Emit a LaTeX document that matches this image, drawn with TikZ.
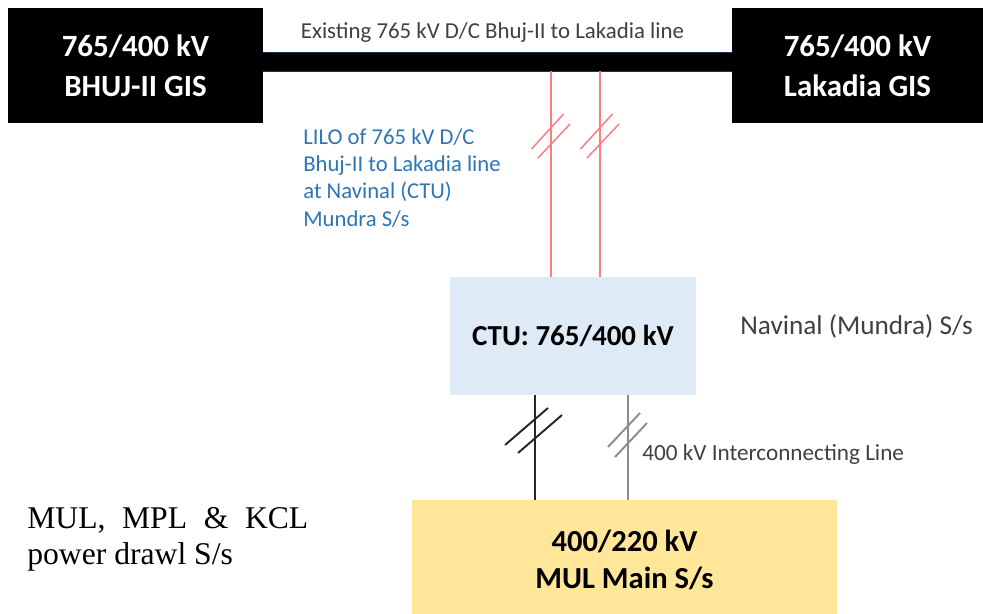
\documentclass[tikz,border=0pt]{standalone}
\usepackage{fontspec}
\setmainfont{Carlito}
\newfontfamily\serifnote{Liberation Serif}

\definecolor{ctublue}{HTML}{DEEAF6}
\definecolor{mulgold}{HTML}{FFE699}
\definecolor{lilored}{HTML}{FF7C80}
\definecolor{liloblue}{HTML}{2E75B6}
\definecolor{notegray}{HTML}{404040}
\definecolor{barnavy}{HTML}{1F3050}

\tikzset{
  gisbox/.style={
    fill=black,
    text=white,
    inner sep=0pt,
    align=center,
    font=\bfseries\fontsize{17.6}{22.7}\selectfont
  },
  busbar/.style={
    fill=black,
    draw=barnavy,
    line width=0.4pt,
    inner sep=0pt
  },
  ctubox/.style={
    fill=ctublue,
    inner sep=0pt,
    font=\bfseries\fontsize{16.5}{20}\selectfont
  },
  mulbox/.style={
    fill=mulgold,
    inner sep=0pt,
    align=center,
    font=\bfseries\fontsize{17.4}{21}\selectfont
  },
  notetext/.style={
    text=notegray,
    inner sep=0pt
  },
  liloline/.style={
    draw=lilored,
    line width=0.85pt
  },
  linkline/.style={
    line width=1.1pt
  }
}

\begin{document}
\begin{tikzpicture}[x=0.02cm, y=-0.02cm]
  \useasboundingbox (0,0) rectangle (983,614);

  % Existing 765 kV line
  \node[busbar, minimum width=9.7cm, minimum height=0.38cm] (bar) at (497.5,61.5) {};

  % GIS stations
  \node[gisbox, minimum width=5.1cm, minimum height=2.3cm] (bhuj) at (135.5,65.5)
    {765/400 kV\\BHUJ-II GIS};
  \node[gisbox, minimum width=5.02cm, minimum height=2.3cm] (lakadia) at (857.5,65.5)
    {765/400 kV\\Lakadia GIS};
  \node[notetext, anchor=base, font=\fontsize{13}{15}\selectfont] (existing) at (492.5,39)
    {Existing 765 kV D/C Bhuj-II to Lakadia line};

  % Navinal (CTU) substation
  \node[ctubox, minimum width=4.92cm, minimum height=2.36cm] (ctu) at (573,336)
    {CTU: 765/400 kV};
  \node[notetext, anchor=base west, font=\fontsize{15.5}{18}\selectfont] (navinal) at (740,335)
    {Navinal (Mundra) S/s};

  % MUL main substation
  \node[mulbox, minimum width=8.5cm, minimum height=2.4cm] (mul) at (624.5,560)
    {400/220 kV\\MUL Main S/s};

  % LILO into Navinal
  \foreach \lx in {551,600} {
    \draw[liloline] (bar.south -| \lx,0) -- (ctu.north -| \lx,0);
    \draw[liloline] (\lx-19.5,149) -- ++(32,-35);
    \draw[liloline] (\lx-13,158) -- ++(32,-34);
  }
  \node[anchor=north west, inner sep=0pt, align=left, text=liloblue,
        font=\fontsize{12.9}{15.6}\selectfont] (lilo) at (303,128)
    {LILO of 765 kV D/C\\Bhuj-II to Lakadia line\\at Navinal (CTU)\\Mundra S/s};

  % 400 kV interconnecting lines
  \draw[linkline, draw=black!85] (ctu.south -| 535,0) -- (mul.north -| 535,0);
  \draw[linkline, draw=black!85] (505,445) -- ++(43,-37);
  \draw[linkline, draw=black!85] (518,453) -- ++(44,-38);
  \draw[linkline, draw=black!45] (ctu.south -| 628,0) -- (mul.north -| 628,0);
  \draw[linkline, draw=black!45] (608,447) -- ++(32,-34);
  \draw[linkline, draw=black!45] (615,457) -- ++(32,-34);
  \node[notetext, anchor=base west, font=\fontsize{13.2}{15}\selectfont] (interlink) at (642,460)
    {400 kV Interconnecting Line};

  % Power drawl note
  \node[anchor=base west, inner sep=0pt, font=\serifnote\fontsize{18}{21}\selectfont] (drawl) at (27,528)
    {\parbox[t]{5.62cm}{MUL,\hfill MPL\hfill \&\hfill KCL\\power drawl S/s}};
\end{tikzpicture}
\end{document}
